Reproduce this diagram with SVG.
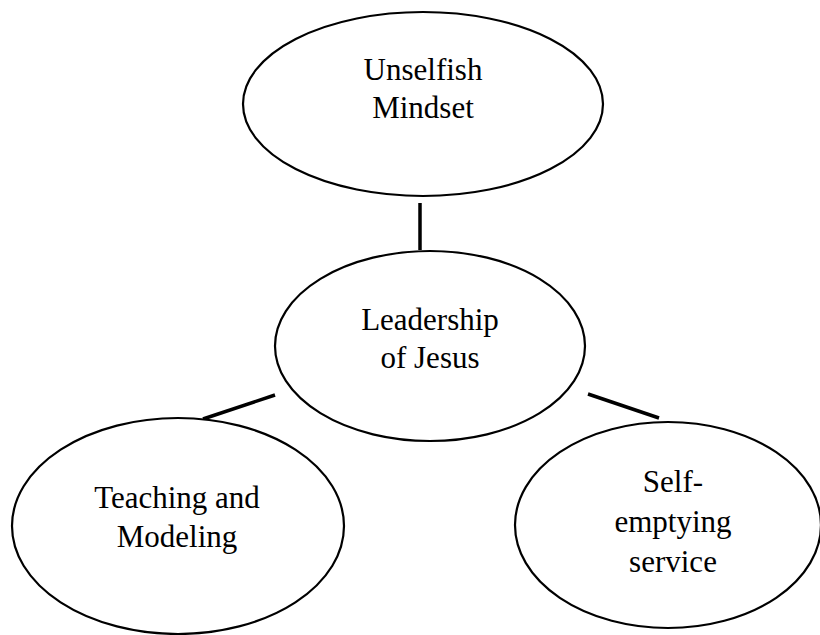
<svg xmlns="http://www.w3.org/2000/svg" width="820" height="635" viewBox="0 0 820 635">
  <style>
    .node ellipse { fill: #ffffff; stroke: #000000; stroke-width: 2.2; }
    .node text { font-family: "Liberation Serif", "Times New Roman", serif; font-size: 31px; fill: #000000; text-anchor: middle; }
    .links line { stroke: #000000; stroke-width: 3.5; }
  </style>
  <rect width="820" height="635" fill="#ffffff"/>

  <g class="links">
    <line x1="420" y1="203" x2="420" y2="250"/>
    <line x1="203" y1="419" x2="275" y2="395"/>
    <line x1="588" y1="394" x2="659" y2="418"/>
  </g>

  <g id="unselfish-mindset" class="node">
    <ellipse cx="423" cy="104" rx="180" ry="92"/>
    <text x="423" y="80">Unselfish</text>
    <text x="423" y="118">Mindset</text>
  </g>

  <g id="leadership-of-jesus" class="node">
    <ellipse cx="430" cy="346" rx="155" ry="95"/>
    <text x="430" y="330">Leadership</text>
    <text x="430" y="368">of Jesus</text>
  </g>

  <g id="teaching-and-modeling" class="node">
    <ellipse cx="178" cy="526" rx="166" ry="108"/>
    <text x="177" y="508">Teaching and</text>
    <text x="177" y="547">Modeling</text>
  </g>

  <g id="self-emptying-service" class="node">
    <ellipse cx="668" cy="525" rx="153" ry="103"/>
    <text x="673" y="492">Self-</text>
    <text x="673" y="532">emptying</text>
    <text x="673" y="572">service</text>
  </g>
</svg>
